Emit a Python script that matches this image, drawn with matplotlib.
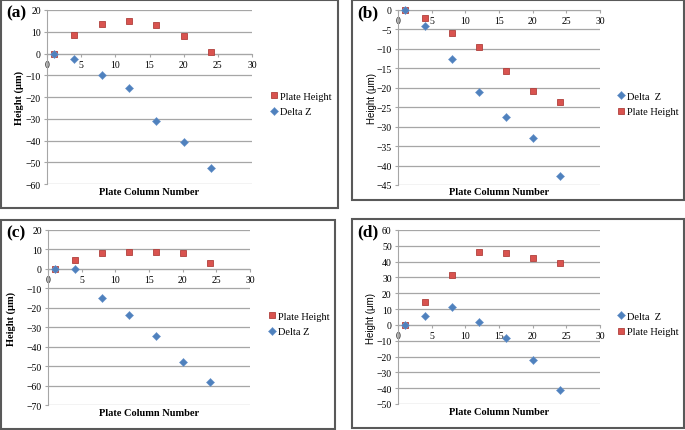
import matplotlib
matplotlib.use('Agg')
import matplotlib.pyplot as plt
from matplotlib.patches import Rectangle

W, H = 685, 431

columns = [1, 4, 8, 12, 16, 20, 24]

# panel (a)
plate_a = [0, 8.4, 13.4, 15.1, 13.1, 8.1, 0.5]
delta_a = [0, -2.6, -9.9, -16, -31, -40.8, -52.8]
# panel (b)
plate_b = [0, -2.1, -5.8, -9.45, -15.7, -20.8, -23.6]
delta_b = [0, -4.0, -12.5, -21.1, -27.4, -33, -42.7]
# panel (c)
plate_c = [-0.3, 4.7, 8.1, 8.7, 8.7, 8.1, 3.0]
delta_c = [0, 0, -15.2, -23.6, -34.3, -47.9, -58]
# panel (d)
plate_d = [0, 14.3, 31.5, 45.9, 45.7, 42.5, 39.1]
delta_d = [0, 5.8, 11.3, 1.6, -8.1, -22, -41]

red = '#D9534F'
red_edge = '#B0403C'
blue = '#4F81BD'
grid_col = '#A6A6A6'
serif = 'Liberation Serif'
sans = 'Liberation Sans'

fig = plt.figure(figsize=(W/100, H/100), dpi=100)


def px_axes(l, t, r, b):
    return fig.add_axes([l/W, 1 - b/H, (r - l)/W, (b - t)/H])


def border(l, t, r, b):
    fig.patches.append(Rectangle((l/W, 1 - b/H), (r - l)/W, (b - t)/H,
                                 transform=fig.transFigure, fill=False,
                                 edgecolor='#595959', linewidth=1.5))


def panel(box, axbox, tag, plate, delta, ylim, ystep, bold_ylabel,
          plate_first, leg_xy, ylabel_x, xlabel_y):
    border(*box)
    ax = px_axes(*axbox)
    ax.set_xlim(0, 30)
    ax.set_ylim(*ylim)
    ax.set_yticks(range(ylim[0], ylim[1] + 1, ystep))
    ax.set_xticks(range(0, 31, 5))
    ax.grid(axis='y', color=grid_col, linewidth=0.9)
    ax.set_axisbelow(True)
    for s in ['top', 'right']:
        ax.spines[s].set_visible(False)
    ax.spines['bottom'].set_position(('data', 0))
    ax.spines['bottom'].set_color(grid_col)
    ax.spines['left'].set_color(grid_col)
    ax.tick_params(axis='both', colors=grid_col, length=2.5, width=0.8,
                   labelcolor='black', labelsize=7, pad=2)
    for lab in ax.get_xticklabels() + ax.get_yticklabels():
        lab.set_fontfamily(serif)

    hp, = ax.plot(columns, plate, linestyle='none', marker='s', markersize=5,
                  markerfacecolor=red, markeredgecolor=red_edge,
                  markeredgewidth=0.6, zorder=3, clip_on=False)
    hd, = ax.plot(columns, delta, linestyle='none', marker='D', markersize=3.8,
                  markerfacecolor=blue, markeredgecolor='#6A95CC',
                  markeredgewidth=0.4, zorder=4, clip_on=False)

    if bold_ylabel:
        fig.text(ylabel_x/W, 1 - (axbox[1] + axbox[3])/2/H, 'Height (μm)',
                 rotation=90, ha='center', va='center', fontsize=7.5,
                 fontweight='bold', family=serif)
    else:
        fig.text(ylabel_x/W, 1 - (axbox[1] + axbox[3])/2/H, 'Height (μm)',
                 rotation=90, ha='center', va='center', fontsize=7, family=sans)
    fig.text((axbox[0] + axbox[2])/2/W, 1 - xlabel_y/H, 'Plate Column Number',
             ha='center', va='center', fontsize=7.5, fontweight='bold',
             family=serif)
    fig.text((box[0] + 5)/W, 1 - (box[1] + 12)/H, tag, ha='left',
             va='center', fontsize=12.5, fontweight='bold', family=serif)

    if plate_first:
        handles, labels = [hp, hd], ['Plate Height', 'Delta Z']
    else:
        handles, labels = [hd, hp], ['Delta  Z', 'Plate Height']
    ax.legend(handles, labels, loc='center left',
              bbox_to_anchor=(leg_xy[0]/W, 1 - leg_xy[1]/H),
              bbox_transform=fig.transFigure, frameon=False,
              prop={'family': serif, 'size': 7.5}, handlelength=0.7,
              handletextpad=0.3, labelspacing=0.55, borderaxespad=0,
              borderpad=0)
    return ax


panel((1, 1, 338, 209), (47, 11, 252, 185), '(a)', plate_a, delta_a,
      (-60, 20), 10, True, True, (270, 105), 19, 193)
panel((352, 1, 684, 201), (398, 11, 600, 186), '(b)', plate_b, delta_b,
      (-45, 0), 5, False, False, (617, 105), 372, 193)
panel((1, 221, 335, 430), (48, 231, 250, 406), '(c)', plate_c, delta_c,
      (-70, 20), 10, True, True, (268, 325), 11, 414)
panel((352, 220, 684, 429), (398, 231, 600, 405), '(d)', plate_d, delta_d,
      (-50, 60), 10, False, False, (617, 325), 371, 413)

fig.savefig('out.png', dpi=100)
